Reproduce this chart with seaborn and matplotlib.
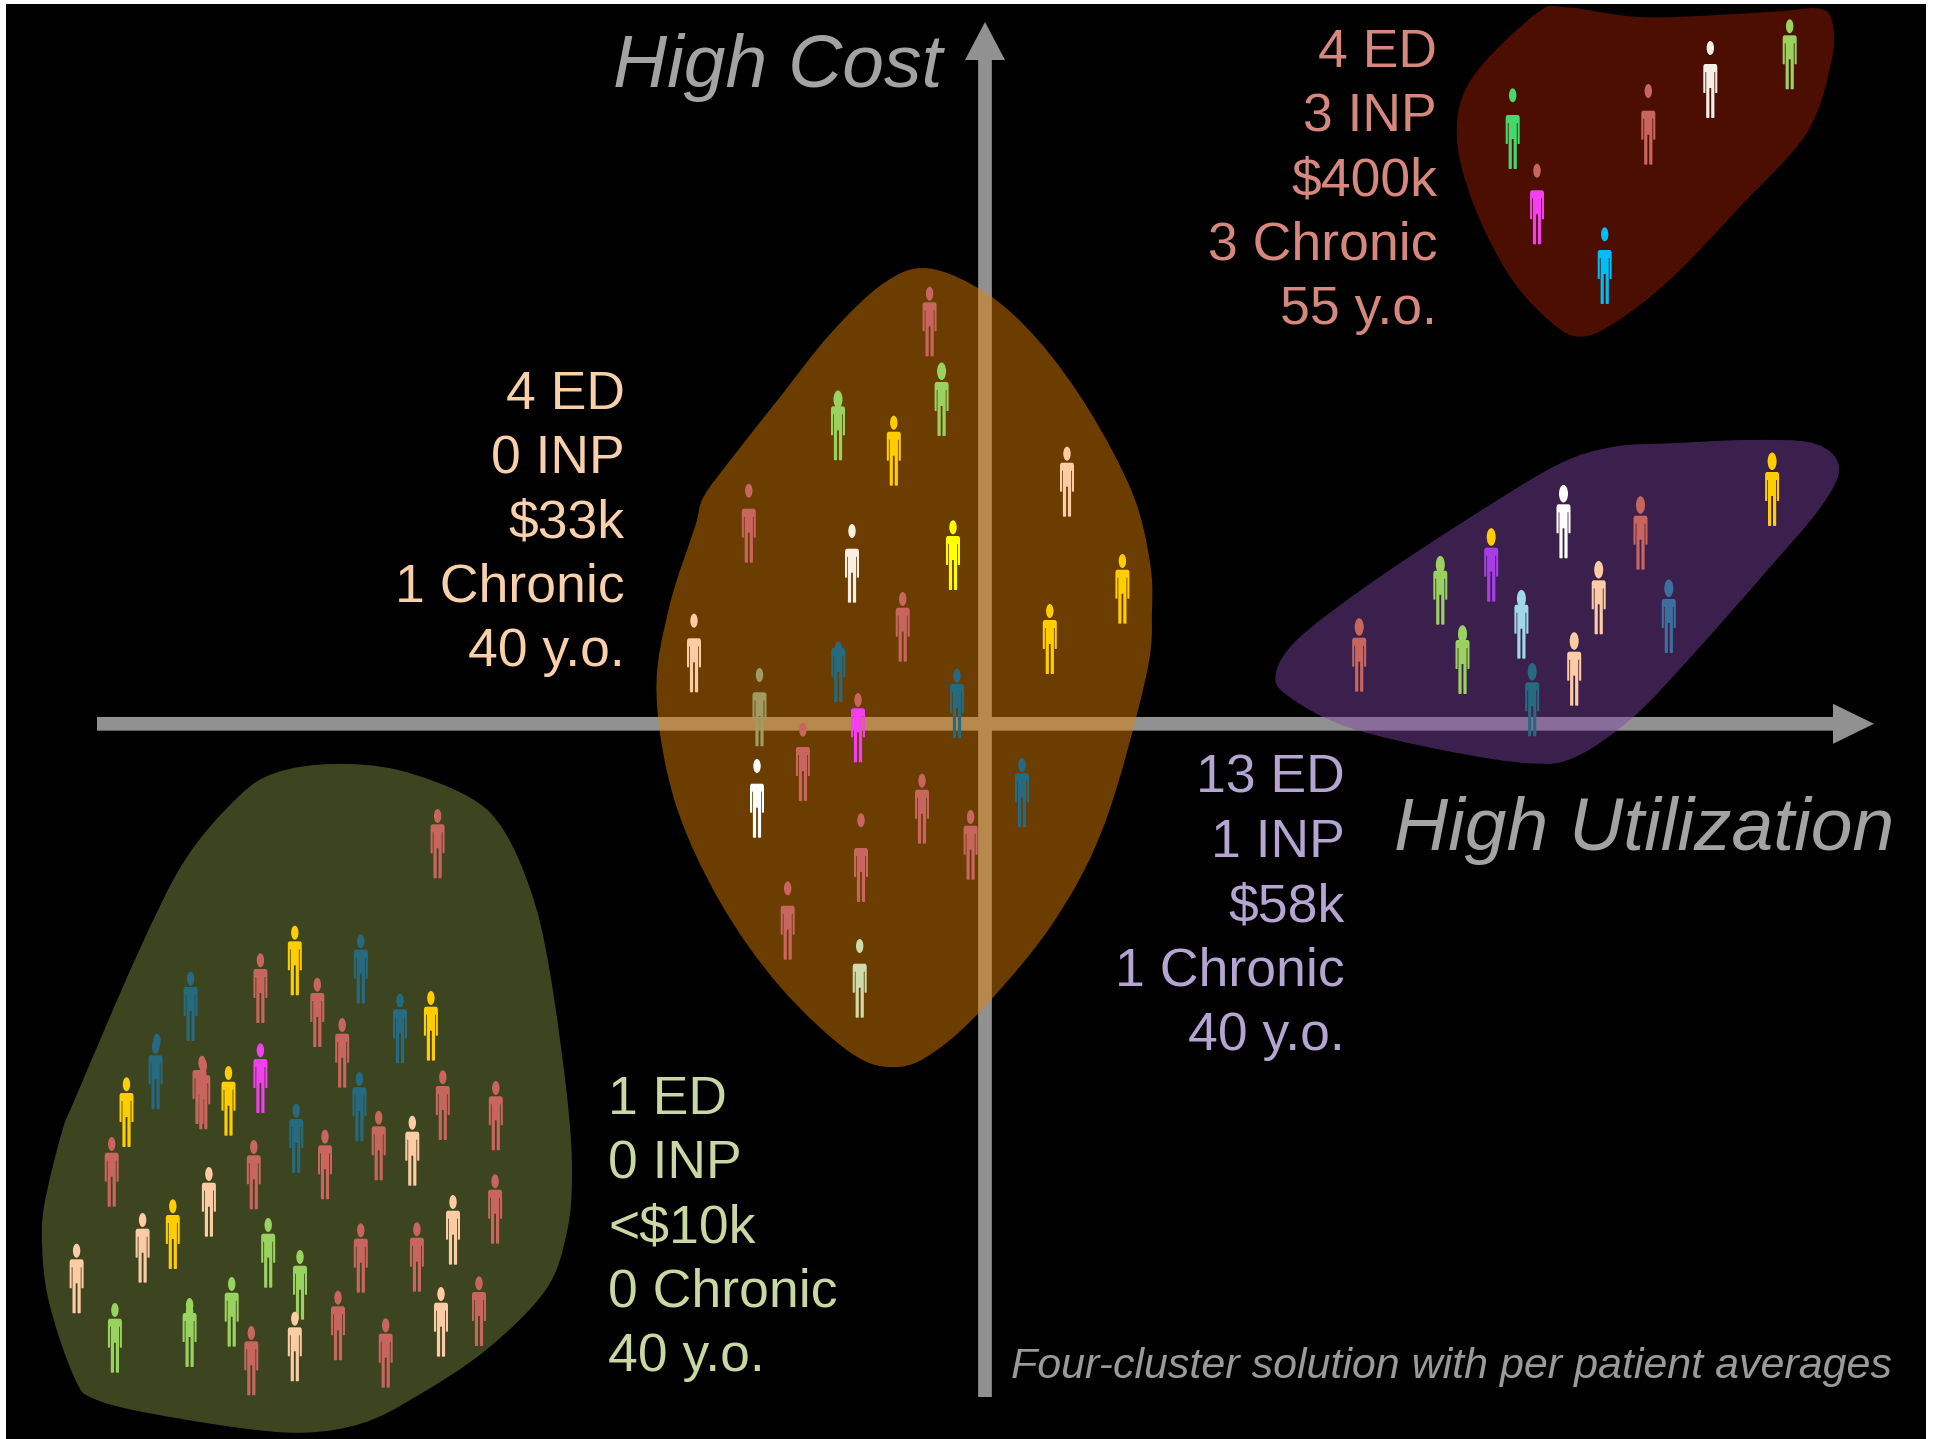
import numpy as np
import matplotlib
matplotlib.use("Agg")
import matplotlib.pyplot as plt
from matplotlib.path import Path
from matplotlib.patches import PathPatch, FancyArrow
from matplotlib.transforms import Affine2D
import seaborn as sns

W, H, DPI = 1938, 1439, 100

# ---- people: x, head centre y, foot y, body category, head category (pixels of the picture)
red_x = [1512.7, 1537, 1648.3, 1710.3, 1789.7, 1604.7]
red_head = [95.3, 170.7, 91, 48, 26.3, 234.3]
red_foot = [169, 244.3, 164.7, 118, 89.3, 304]
red_body = ["green", "magenta", "salmon", "ivory", "lime", "blue"]
red_face = ["green", "salmon", "salmon", "ivory", "lime", "blue"]

brown_x = [929.6, 941.6, 838, 893.8, 1067, 748.8, 852, 953, 1122.4, 902.7, 1049.8, 694,
           838.3, 759.5, 957, 858, 802.9, 757, 922, 1022, 970.6, 861, 787.7, 859.7]
brown_head = [293.7, 371.3, 399.3, 422.7, 453.7, 490.7, 531, 527.3, 561, 599, 611, 620.7,
              648.7, 675, 675.7, 700, 729.7, 766, 780.7, 765, 817, 820.3, 888.3, 946]
brown_foot = [356.3, 436, 460.3, 485.7, 516.7, 562.7, 602.7, 590, 623.7, 661.7, 674, 692.3,
              702, 746.3, 738, 762.3, 801, 837.7, 843.7, 827.3, 879.7, 902, 959.7, 1017.7]
brown_body = ["salmon", "lime", "lime", "gold", "peach", "salmon", "linen", "yellow", "gold", "salmon", "gold", "peach",
              "teal", "olive", "teal", "magenta", "salmon", "white", "salmon", "teal", "salmon", "salmon", "salmon", "pale"]
brown_face = ["salmon", "lime", "lime", "gold", "peach", "salmon", "linen", "yellow", "gold", "salmon", "gold", "peach",
              "teal", "olive", "teal", "salmon", "salmon", "white", "salmon", "teal", "salmon", "salmon", "salmon", "pale"]

purple_x = [1359.2, 1440.3, 1462.5, 1491.2, 1521.4, 1563.5, 1598.7, 1574.2, 1532.2, 1640.5, 1668.8, 1772.1]
purple_head = [627, 564.7, 634, 537, 598.7, 493.7, 569.7, 641, 671.7, 505, 588.3, 461.3]
purple_foot = [691.7, 624.7, 694, 601.7, 658.7, 558.3, 634.3, 705.7, 736.3, 569.7, 653, 526]
purple_body = ["salmon", "lime", "lime", "violet", "sky", "white", "peach", "peach", "teal", "salmon", "steel", "gold"]
purple_face = ["salmon", "lime", "lime", "gold", "sky", "white", "peach", "peach", "teal", "salmon", "steel", "gold"]

green_x = [437.6, 294.8, 260.4, 360.8, 190.6, 317.3, 400, 430.9, 342.2, 155.6, 203.3, 228.5, 260.4, 126.5,
           359.4, 442.8, 495.8, 296.2, 378.7, 412.3, 325, 111.7, 253.8, 208.9, 172.8, 142.6, 495.1, 453,
           416.9, 360.8, 268.2, 300, 76.6, 231.7, 441, 479, 338, 114.9, 189.6, 294.8, 385.7, 251.3]
green_head = [816, 932.7, 960.3, 941.3, 978.7, 984.7, 1000.7, 998, 1025, 1046.7, 1066, 1073, 1050.3, 1084.3,
              1079, 1077.3, 1088, 1110.7, 1117.7, 1122.7, 1136.7, 1144, 1147, 1174, 1206.3, 1220, 1181.3, 1202,
              1229.3, 1230.3, 1225, 1257, 1250.7, 1284, 1294, 1283.3, 1297.7, 1310, 1311.7, 1318.7, 1325.3, 1333]
green_foot = [878.3, 995.3, 1023, 1003.7, 1041, 1047, 1063.3, 1060.7, 1087.7, 1109.3, 1129.3, 1135.7, 1113, 1147,
              1141.3, 1140, 1150.3, 1173, 1180.3, 1185.7, 1199.3, 1206.7, 1209.3, 1236.7, 1269, 1282.7, 1243.7, 1264.7,
              1291.7, 1292.7, 1287.7, 1319.7, 1313.3, 1346.7, 1356.7, 1346, 1360.3, 1372.7, 1367, 1381.3, 1387.7, 1395.3]
green_body = ["salmon", "gold", "salmon", "teal", "teal", "salmon", "teal", "gold", "salmon", "teal", "salmon", "gold", "magenta", "gold",
              "teal", "salmon", "salmon", "teal", "salmon", "peach", "salmon", "salmon", "salmon", "peach", "gold", "peach", "salmon", "peach",
              "salmon", "salmon", "lime", "lime", "peach", "lime", "peach", "salmon", "salmon", "lime", "lime", "peach", "salmon", "salmon"]
green_face = list(green_body)

# second heads and one second body visible on a few of the figures
ghost_x = [157, 202, 189.6]
ghost_y = [1040.7, 1062.7, 1305]
ghost_kind = ["teal", "salmon", "lime"]
ghost_body_x = [199.5]
ghost_body_foot = [1124]
ghost_body_kind = ["salmon"]

# ---- cluster outlines
red_blob_x = [1566.7, 1646.7, 1773, 1816.7, 1831.7, 1831.7, 1806.7, 1740, 1673, 1619, 1582, 1552, 1510, 1473, 1456.7, 1473, 1536.7]
red_blob_y = [7.3, 17.3, 11.7, 8.3, 20, 60, 133, 206.7, 276.7, 320, 336.7, 323, 276.7, 203, 133, 76.7, 13.3]
brown_blob_x = [928, 986, 1038, 1089, 1132.4, 1149.6, 1152, 1146, 1104.9, 1055, 988, 937, 897, 851, 780, 719, 674.4, 656.5,
                669.3, 695, 703.7, 733, 777.7, 831, 884]
brown_blob_y = [268.3, 293, 340, 410, 493, 560, 610, 676.7, 823, 920, 1003, 1050, 1067, 1053, 986.7, 900, 800, 693,
                606.7, 526.7, 496.7, 456.7, 400, 333, 283]
purple_blob_x = [1748.4, 1813.4, 1839, 1821, 1767.5, 1691, 1633.6, 1576, 1530, 1442, 1346.5, 1289, 1275.7, 1296.8, 1365.7, 1461, 1557, 1614.4, 1671.8]
purple_blob_y = [440, 443.3, 466.7, 506.7, 570, 656.7, 716.7, 756.7, 763.3, 750, 726.7, 696.7, 675, 640, 586.7, 523.3, 465, 446.7, 443.3]
green_blob_x = [332, 398.3, 468.4, 503.5, 531.6, 549, 566.7, 572, 566.7, 545.6, 486, 415.8, 363, 303.6, 233, 133, 90, 77, 60, 47, 42.3, 44, 61.6, 76, 138, 185, 237, 275]
green_blob_y = [764, 770, 796.7, 830, 893.3, 966.7, 1093, 1173, 1233, 1290, 1350, 1396.7, 1423, 1432.7, 1427, 1410, 1397, 1383, 1340, 1293, 1250, 1206.7, 1133, 1096.7, 953, 860, 798, 773]

# ---- texts
red_text = ["4 ED", "3 INP", "$400k", "3 Chronic", "55 y.o."]
brown_text = ["4 ED", "0 INP", "$33k", "1 Chronic", "40 y.o."]
purple_text = ["13 ED", "1 INP", "$58k", "1 Chronic", "40 y.o."]
green_text = ["1 ED", "0 INP", "<$10k", "0 Chronic", "40 y.o."]
y_title = "High Cost"
x_title = "High Utilization"
note = "Four-cluster solution with per patient averages"

# ---- colours
PALETTE = {"salmon": "#c8655f", "teal": "#256a80", "gold": "#ffcd00", "peach": "#fdcba4", "lime": "#9ad25f",
           "white": "#ffffff", "linen": "#fbefe4", "yellow": "#ffff00", "magenta": "#f43ff0", "olive": "#a39a62",
           "pale": "#cfdcaa", "green": "#45d96c", "blue": "#00bdf7", "ivory": "#f4f0e6", "violet": "#a83de8",
           "sky": "#a0d8e8", "steel": "#3c6e9e"}
GREY = "#919191"

sns.set_theme(style="white")
plt.rcParams["font.family"] = ["Liberation Sans", "DejaVu Sans"]

fig = plt.figure(figsize=(W / DPI, H / DPI), dpi=DPI, facecolor="white")
ax = fig.add_axes([6 / W, 0, (1926 - 6) / W, (H - 4) / H])
ax.set_facecolor("black")

# ---- person glyph
half_body = 27.0
right = [(0, 0), (5.4, 0), (6.5, 0.8), (7, 2.5), (7, 28.6), (6.6, 29), (5.3, 29), (4.9, 28.6), (4.9, 8), (4.1, 8),
         (4.1, 53.4), (3.6, 54), (1.4, 54), (0.9, 53.4), (0.9, 24), (0, 24)]
left = [(-a, b) for a, b in right[-2:0:-1]]
pts = right + left + [right[0]]
body_verts = [(a, half_body - b) for a, b in pts]
BODY = Path(body_verts, [Path.MOVETO] + [Path.LINETO] * (len(body_verts) - 2) + [Path.CLOSEPOLY])


def head_path(w, h):
    c = Path.unit_circle().transformed(Affine2D().scale(w / 2, h / 2))
    return Path(np.vstack([[[0, half_body]], c.vertices]), np.r_[Path.MOVETO, c.codes])


HEAD_S = head_path(7.4, 14)
HEAD_L = head_path(9, 17.6)
S = (2 * half_body * 72 / DPI) ** 2


def scatter(x, y, kinds, marker, z=5):
    sns.scatterplot(x=list(x), y=list(y), hue=list(kinds), palette=PALETTE, marker=marker, s=S,
                    linewidth=0, edgecolor="none", legend=False, ax=ax, zorder=z)


def people(x, head, foot, body, face, large=()):
    x = np.asarray(x, float)
    head = np.asarray(head, float)
    foot = np.asarray(foot, float)
    mask = np.isin(np.arange(len(x)), list(large))
    scatter(x, foot - half_body, body, BODY)
    small = ~mask
    scatter(x[small], head[small], np.array(face)[small], HEAD_S)
    if mask.any():
        scatter(x[mask], head[mask], np.array(face)[mask], HEAD_L)


def blob(x, y, colour):
    p = np.column_stack([x, y])
    n = len(p)
    verts, codes = [p[0]], [Path.MOVETO]
    for i in range(n):
        p0, p1, p2, p3 = p[(i - 1) % n], p[i], p[(i + 1) % n], p[(i + 2) % n]
        verts += [p1 + (p2 - p0) / 6, p2 - (p3 - p1) / 6, p2]
        codes += [Path.CURVE4] * 3
    ax.add_patch(PathPatch(Path(verts, codes), facecolor=colour, edgecolor="none", alpha=0.47, zorder=3))


blob(red_blob_x, red_blob_y, "#a21e00")
blob(brown_blob_x, brown_blob_y, "#e48200")
blob(purple_blob_x, purple_blob_y, "#7f46a6")
blob(green_blob_x, green_blob_y, "#829146")

ax.add_patch(FancyArrow(97, 723.8, 1874 - 97, 0, width=13.7, head_width=40, head_length=41,
                        length_includes_head=True, color=GREY, lw=0, zorder=2))
ax.add_patch(FancyArrow(985, 1397, 0, 22 - 1397, width=13.7, head_width=40, head_length=38,
                        length_includes_head=True, color=GREY, lw=0, zorder=2))

people(red_x, red_head, red_foot, red_body, red_face)
people(brown_x, brown_head, brown_foot, brown_body, brown_face, large=(1, 2))
people(purple_x, purple_head, purple_foot, purple_body, purple_face, large=range(len(purple_x)))
people(green_x, green_head, green_foot, green_body, green_face)
scatter(ghost_x, ghost_y, ghost_kind, HEAD_S)
scatter(ghost_body_x, np.array(ghost_body_foot) - half_body, ghost_body_kind, BODY)


def block(lines, anchor_x, first_baseline, colour, ha):
    for i, line in enumerate(lines):
        ax.text(anchor_x, first_baseline + i * 64.3, line, color=colour, ha=ha, va="baseline",
                fontsize=38.5, zorder=6)


block(red_text, 1437, 67, "#d6887e", "right")
block(brown_text, 625, 409, "#f9d0aa", "right")
block(purple_text, 1344.5, 792.5, "#b5a5d2", "right")
block(green_text, 608, 1114, "#c9d7a2", "left")

ax.text(613, 86.5, y_title, color="#a3a3a3", fontsize=54, style="italic", va="baseline", zorder=6)
ax.text(1394, 850, x_title, color="#a3a3a3", fontsize=54, style="italic", va="baseline", zorder=6)
ax.text(1011, 1378, note, color="#9a9a9a", fontsize=31, style="italic", va="baseline", zorder=6)

ax.set_xlim(6, 1926)
ax.set_ylim(H, 4)
ax.set_xlabel("")
ax.set_ylabel("")
ax.set_xticks([])
ax.set_yticks([])
sns.despine(ax=ax, left=True, bottom=True)

fig.savefig("out.png", dpi=DPI, facecolor="white")
